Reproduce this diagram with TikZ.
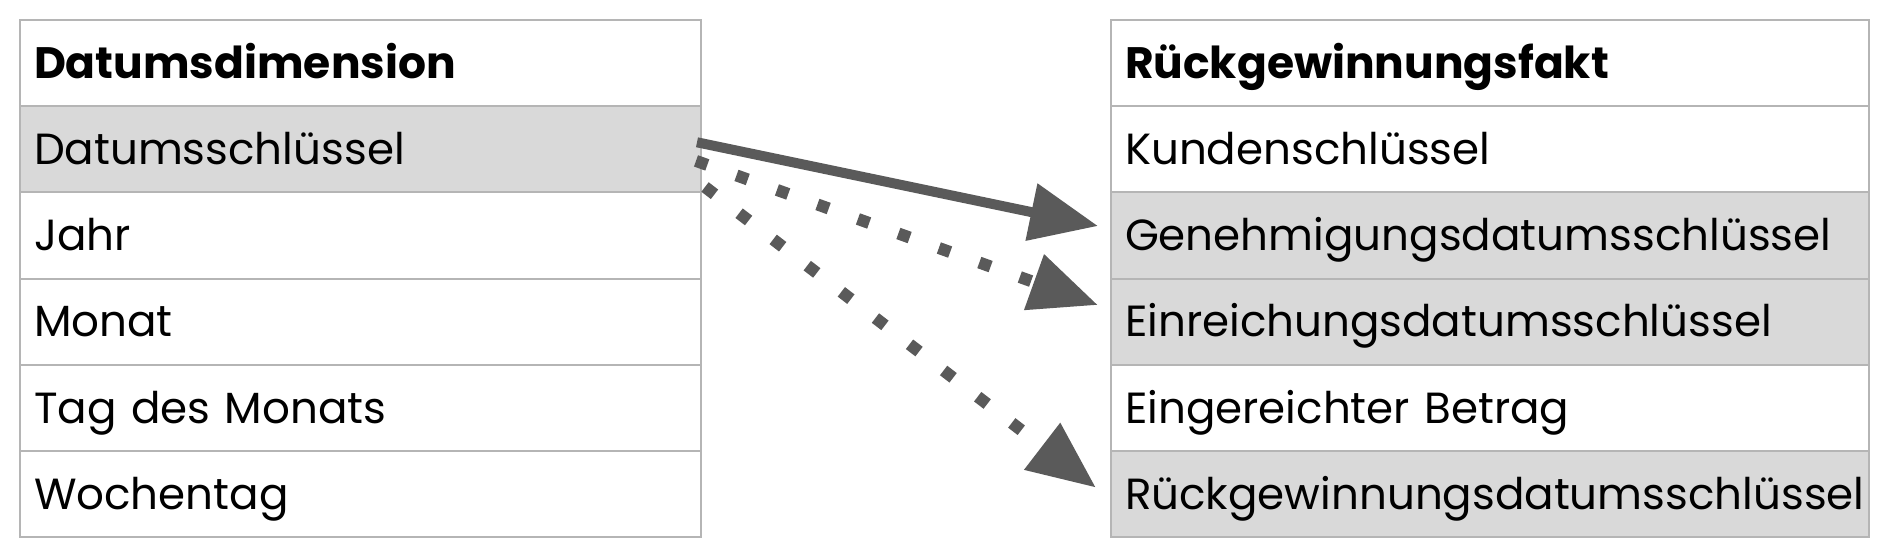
\documentclass[tikz,border=0pt]{standalone}
\usepackage{fontspec}
\setmainfont{Poppins}
\usetikzlibrary{arrows.meta}
\definecolor{bordergray}{HTML}{B5B5B5}
\definecolor{keygray}{HTML}{D9D9D9}
\definecolor{arrowgray}{HTML}{5A5A5A}
\begin{document}
\begin{tikzpicture}[x=0.5pt,y=-0.5pt,
  cell/.style={draw=bordergray, line width=1pt, anchor=north west, minimum height=43.1pt,
    inner xsep=7pt, inner ysep=0pt, text height=15.3pt, text depth=0pt, align=left,
    font=\fontsize{21.8}{26}\selectfont},
  lcell/.style={cell, text width=326.5pt},
  rcell/.style={cell, text width=365pt},
  keyrow/.style={fill=keygray},
  headrow/.style={font=\fontsize{22}{26}\selectfont\bfseries},
  solidarrow/.style={draw=arrowgray, line width=5pt, -{Triangle[length=34pt,width=28pt,fill=arrowgray]}},
  dotarrow/.style={draw=arrowgray, line width=6pt, dash pattern=on 6pt off 15.5pt, -{Triangle[length=34pt,width=28pt,fill=arrowgray]}}]
\useasboundingbox (0,0) rectangle (1880,544);
\fill[white] (0,0) rectangle (1880,544);
% left table
\node[lcell, headrow] (l0) at (19,19) {Datumsdimension};
\node[lcell, keyrow] (l1) at (19,105.2) {Datumsschlüssel};
\node[lcell] (l2) at (19,191.4) {Jahr};
\node[lcell] (l3) at (19,277.6) {Monat};
\node[lcell] (l4) at (19,363.8) {Tag des Monats};
\node[lcell] (l5) at (19,450) {Wochentag};
% right table
\node[rcell, headrow] (r0) at (1110,19) {Rückgewinnungsfakt};
\node[rcell] (r1) at (1110,105.2) {Kundenschlüssel};
\node[rcell, keyrow] (r2) at (1110,191.4) {Genehmigungsdatumsschlüssel};
\node[rcell, keyrow] (r3) at (1110,277.6) {Einreichungsdatumsschlüssel};
\node[rcell] (r4) at (1110,363.8) {Eingereichter Betrag};
\node[rcell, keyrow] (r5) at (1110,450) {Rückgewinnungsdatumsschlüssel};
% connectors
\draw[solidarrow] ([xshift=-2.5pt,yshift=3.5pt]l1.east) -- ([xshift=-6pt,yshift=4.75pt]r2.west);
\draw[dotarrow] ([xshift=-3pt,yshift=-5.8pt]l1.east) -- ([xshift=-6pt,yshift=8.3pt]r3.west);
\draw[dotarrow] ([xshift=1.5pt,yshift=3.2pt]l1.south east) -- ([xshift=-7pt,yshift=3.2pt]r5.west);
\end{tikzpicture}
\end{document}
